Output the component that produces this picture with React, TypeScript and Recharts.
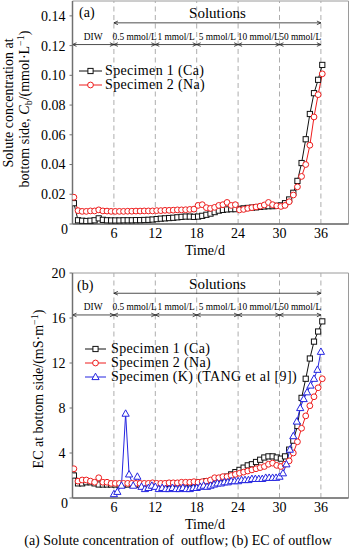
import { Legend, Line, LineChart, ReferenceArea, ReferenceLine, XAxis, YAxis } from "recharts";

const FONT = '"Liberation Serif", "Times New Roman", serif';
const INK = "#222";
const AXIS = "#707070";
const GRID = "#adadad";
const BLACK = "#111";
const RED = "#ee1c1c";
const BLUE = "#2424e0";

// time of each sample (d), shared by specimens 1 and 2
const days = [
  0.2, 0.8, 1.4, 2.0, 2.6, 3.2, 3.8, 4.4, 5.0, 5.6,
  6.2, 6.8, 7.4, 8.0, 8.6, 9.2, 9.8, 10.4, 11.0, 11.6,
  12.2, 12.8, 13.4, 14.0, 14.6, 15.2, 15.8, 16.4, 17.0, 17.6,
  18.2, 18.8, 19.4, 20.0, 20.6, 21.2, 21.8, 22.4, 23.0, 23.6,
  24.2, 24.8, 25.4, 26.0, 26.6, 27.2, 27.8, 28.4, 29.0, 29.6,
  30.2, 30.8, 31.4, 32.0, 32.6, 33.2, 33.8, 34.4, 35.0, 35.6,
  36.2,
];

// (a) solute concentration, mmol/L
const caConc = [
  0.014, 0.0025, 0.0022, 0.002, 0.0022, 0.0025, 0.0038, 0.0028, 0.0025, 0.0024,
  0.0024, 0.0024, 0.0025, 0.0025, 0.0025, 0.0026, 0.0026, 0.0027, 0.0028, 0.003,
  0.0033, 0.0036, 0.0038, 0.004, 0.0042, 0.0045, 0.0048, 0.005, 0.005, 0.0048,
  0.005, 0.0055, 0.0062, 0.007, 0.008, 0.009, 0.0095, 0.0098, 0.01, 0.01,
  0.0102, 0.0105, 0.0108, 0.011, 0.0112, 0.0115, 0.0118, 0.012, 0.012, 0.0122,
  0.0125, 0.014, 0.0165, 0.021, 0.029, 0.041, 0.057, 0.074, 0.088, 0.097,
  0.107,
];
const naConc = [
  0.018, 0.009, 0.0085, 0.0085, 0.0088, 0.0088, 0.0095, 0.0088, 0.0087, 0.0085,
  0.0085, 0.0085, 0.0085, 0.0086, 0.0086, 0.0087, 0.0087, 0.0088, 0.0088, 0.0088,
  0.009, 0.009, 0.0092, 0.0092, 0.0093, 0.0095, 0.0095, 0.0096, 0.0098, 0.01,
  0.0125, 0.013, 0.011, 0.0105, 0.0112, 0.0125, 0.013, 0.0145, 0.0125, 0.013,
  0.0095, 0.0098, 0.0105, 0.011, 0.0115, 0.012, 0.0128, 0.0145, 0.013, 0.0122,
  0.0118, 0.0125, 0.015, 0.0195, 0.025, 0.032, 0.04, 0.053, 0.072, 0.087,
  0.101,
];

// (b) EC, mS/m
const caEc = [
  2.0, 1.3, 1.3, 1.4, 1.4, 1.3, 1.2, 1.2, 1.2, 1.2,
  1.2, 1.2, 1.2, 1.2, 1.2, 1.2, 1.2, 1.2, 1.2, 1.2,
  1.2, 1.2, 1.2, 1.25, 1.25, 1.3, 1.3, 1.3, 1.3, 1.35,
  1.4, 1.4, 1.5, 1.5, 1.6, 1.7, 1.8, 1.9, 2.1, 2.3,
  2.5, 2.7, 2.9, 3.0, 3.2, 3.4, 3.6, 3.7, 3.7, 3.6,
  3.5, 3.7, 4.3, 5.1, 6.4, 8.9, 10.6, 12.4, 13.9, 14.8,
  15.7,
];
const naEc = [
  2.6, 1.5, 1.6, 1.6, 1.5, 1.4, 1.8, 1.4, 1.4, 1.3,
  1.3, 1.3, 1.3, 1.3, 1.3, 1.3, 1.3, 1.3, 1.3, 1.35,
  1.3, 1.3, 1.3, 1.35, 1.35, 1.35, 1.4, 1.4, 1.4, 1.45,
  1.4, 1.45, 1.5, 1.6, 1.8, 1.8, 1.9, 1.9, 2.0, 2.1,
  2.2, 2.3, 2.4, 2.5, 2.6, 2.7, 2.8, 3.0, 3.1, 2.9,
  2.8, 3.0, 3.3, 4.0, 5.0, 6.2, 7.3, 8.2, 9.0, 9.8,
  10.6,
];

// specimen K (TANG et al), own sampling times
const kDays = [
  6.0, 6.5, 7.1, 7.7, 8.2, 8.8, 9.4,
  10.0, 10.5, 11.0, 11.5, 12.0, 12.5, 13.0, 13.5, 14.0, 14.5,
  15.0, 15.5, 16.0, 16.5, 17.0, 17.5, 18.0, 18.5, 19.0, 19.5,
  20.0, 20.5, 21.0, 21.5, 22.0, 22.5, 23.0, 23.5, 24.0, 24.5,
  25.0, 25.5, 26.0, 26.5, 27.0, 27.5, 28.0, 28.5, 29.0, 29.5,
  30.0, 30.5, 31.0, 31.5, 32.0, 32.5, 33.0, 33.5, 34.0, 34.5,
  35.0, 35.5, 36.0,
];
const kEc = [
  0.35, 0.55, 1.1, 7.5, 2.1, 1.1, 1.9,
  1.0, 0.8, 0.9, 1.1, 1.0, 0.8, 0.9, 0.8, 0.8, 0.9,
  0.8, 0.8, 0.9, 0.8, 0.8, 0.9, 0.9, 1.0, 1.1, 1.0,
  1.1, 1.2, 1.3, 1.3, 1.4, 1.4, 1.5, 1.5, 1.5, 1.6,
  1.6, 1.6, 1.7, 1.7, 1.7, 1.7, 1.8, 1.8, 1.8, 1.8,
  1.9, 2.2, 3.0, 4.3, 5.5, 6.8, 8.0, 8.8, 9.4, 10.0,
  10.6, 11.4, 13.0,
];

const dayTicks = [6, 12, 18, 24, 30, 36];
const concTicks = [0, 0.02, 0.04, 0.06, 0.08, 0.1, 0.12, 0.14];
const ecTicks = [0, 2, 4, 6, 8, 10, 12, 14, 16, 18, 20];
const stageBounds = [0, 6, 12, 18, 24, 30, 36];
const stageLabels = ["DIW", "0.5 mmol/L", "1 mmol/L", "5 mmol/L", "10 mmol/L", "50 mmol/L"];

const concRows = days.map((t, i) => ({ t, ca: caConc[i], na: naConc[i] }));
const ecRows = days.map((t, i) => ({ t, ca: caEc[i], na: naEc[i] }));
const kRows = kDays.map((t, i) => ({ t, k: kEc[i] }));

const concSeries = [
  { name: "Specimen 1 (Ca)", color: BLACK, shape: "square" },
  { name: "Specimen 2 (Na)", color: RED, shape: "circle" },
];
const ecSeries = [
  { name: "Specimen 1 (Ca)", color: BLACK, shape: "square" },
  { name: "Specimen 2 (Na)", color: RED, shape: "circle" },
  { name: "Specimen (K) (TANG et al [9])", color: BLUE, shape: "triangle" },
];

function marker(shape: string, cx: number, cy: number, color: string, key?: string) {
  if (shape === "square")
    return <rect key={key} x={cx - 2.6} y={cy - 2.6} width={5.2} height={5.2} fill="#fff" stroke={color} strokeWidth={1} />;
  if (shape === "circle")
    return <circle key={key} cx={cx} cy={cy} r={2.9} fill="#fff" stroke={color} strokeWidth={1} />;
  return (
    <polygon
      key={key}
      points={`${cx},${cy - 3.8} ${cx - 3.6},${cy + 2.6} ${cx + 3.6},${cy + 2.6}`}
      fill="#fff"
      stroke={color}
      strokeWidth={1}
    />
  );
}

const dotOf = (shape: string, color: string) => (p: any) => {
  if (p.cx == null || p.cy == null) return <g key={p.key ?? p.index} />;
  return marker(shape, p.cx, p.cy, color, `${shape}-${p.index}`);
};

function YTick(props: any) {
  const { x, y, payload, digits } = props;
  const v = payload.value;
  const txt = v === 0 ? "0" : v.toFixed(digits);
  return (
    <text
      x={x + (v === 0 ? 2.5 : 0)}
      y={y + (v === 0 ? 5.5 : 0)}
      dy="0.35em"
      textAnchor="end"
      fontSize={14}
      fill="#000"
      fontFamily={FONT}
    >
      {txt}
    </text>
  );
}

function DoubleArrow(props: any) {
  const { x1, y1, x2, text, textDy, fontSize } = props;
  const h = 4;
  const w = 1.8;
  return (
    <g>
      <line x1={x1} y1={y1} x2={x2} y2={y1} stroke={INK} strokeWidth={0.8} />
      <polyline points={`${x1 + h},${y1 - w} ${x1},${y1} ${x1 + h},${y1 + w}`} fill="none" stroke={INK} strokeWidth={0.8} />
      <polyline points={`${x2 - h},${y1 - w} ${x2},${y1} ${x2 - h},${y1 + w}`} fill="none" stroke={INK} strokeWidth={0.8} />
      <text x={(x1 + x2) / 2} y={y1 + textDy} textAnchor="middle" fontSize={fontSize} fill="#000" fontFamily={FONT}>
        {text}
      </text>
    </g>
  );
}

function LegendBox({ items, lineW, gap }: { items: typeof ecSeries; lineW: number; gap: number }) {
  return (
    <div style={{ fontFamily: FONT, fontSize: 14, lineHeight: "14px", letterSpacing: "0.35px", color: "#000" }}>
      {items.map((it) => (
        <div key={it.name} style={{ display: "flex", alignItems: "center", height: 14 }}>
          <svg width={lineW} height={10} style={{ display: "block" }}>
            <line x1={0} y1={5} x2={lineW} y2={5} stroke={it.color} strokeWidth={1} />
            {marker(it.shape, lineW / 2, 5, it.color)}
          </svg>
          <span style={{ marginLeft: gap, whiteSpace: "nowrap" }}>{it.name}</span>
        </div>
      ))}
    </div>
  );
}

function stageArrows(yArrow: number) {
  return stageLabels.map((label, i) => (
    <ReferenceLine
      key={label}
      segment={[
        { x: stageBounds[i], y: yArrow },
        { x: stageBounds[i + 1], y: yArrow },
      ]}
      shape={(p: any) => <DoubleArrow x1={p.x1} y1={p.y1} x2={p.x2} text={label} textDy={-4.8} fontSize={9.4} />}
    />
  ));
}

function axes(domain: [number, number], ticks: number[], digits: number) {
  return [
    <XAxis
      key="x"
      type="number"
      dataKey="t"
      domain={[0, 40]}
      ticks={dayTicks}
      height={20}
      tickSize={3}
      tickMargin={1}
      tickLine={false}
      axisLine={{ stroke: AXIS, strokeWidth: 1.5 }}
      tick={{ fontSize: 14, fill: "#000", fontFamily: FONT }}
      allowDataOverflow
    />,
    <YAxis
      key="y"
      type="number"
      domain={domain}
      ticks={ticks}
      width={72}
      tickSize={3}
      tickMargin={4}
      axisLine={{ stroke: AXIS, strokeWidth: 1.5 }}
      tickLine={{ stroke: AXIS }}
      tick={<YTick digits={digits} />}
      allowDataOverflow
    />,
  ];
}

function ConcChart() {
  return (
    <LineChart width={350} height={262} data={concRows} margin={{ top: 1, right: 1.5, bottom: 18, left: 0.5 }}>
      {axes([0, 0.15], concTicks, 2)}
      <ReferenceArea x1={0} x2={40} y1={0} y2={0.15} fill="none" stroke="#9a9a9a" strokeWidth={1} />
      {dayTicks.map((d) => (
        <ReferenceLine key={d} x={d} stroke={GRID} strokeDasharray="5 3.5" />
      ))}
      <ReferenceLine
        segment={[
          { x: 6, y: 0.1353 },
          { x: 36, y: 0.1353 },
        ]}
        shape={(p: any) => <DoubleArrow x1={p.x1} y1={p.y1} x2={p.x2} text="Solutions" textDy={-5} fontSize={15} />}
      />
      {stageArrows(0.1207)}
      <Line dataKey="ca" name="Specimen 1 (Ca)" stroke={BLACK} strokeWidth={1} dot={dotOf("square", BLACK)} activeDot={false} isAnimationActive={false} />
      <Line dataKey="na" name="Specimen 2 (Na)" stroke={RED} strokeWidth={1} dot={dotOf("circle", RED)} activeDot={false} isAnimationActive={false} />
      <Legend
        layout="vertical"
        align="center"
        verticalAlign="middle"
        wrapperStyle={{ left: 79, top: 64, width: "auto", height: "auto" }}
        content={() => <LegendBox items={concSeries} lineW={23} gap={3} />}
      />
    </LineChart>
  );
}

function EcChart() {
  return (
    <LineChart width={350} height={289} data={ecRows} margin={{ top: 11, right: 1.5, bottom: 33, left: 0.5 }}>
      {axes([0, 20], ecTicks, 0)}
      <ReferenceArea x1={0} x2={40} y1={0} y2={20} fill="none" stroke="#9a9a9a" strokeWidth={1} />
      {dayTicks.map((d) => (
        <ReferenceLine key={d} x={d} stroke={GRID} strokeDasharray="5 3.5" />
      ))}
      <ReferenceLine
        segment={[
          { x: 6, y: 18.2 },
          { x: 36, y: 18.2 },
        ]}
        shape={(p: any) => <DoubleArrow x1={p.x1} y1={p.y1} x2={p.x2} text="Solutions" textDy={-4} fontSize={15} />}
      />
      {stageArrows(16.27)}
      <Line dataKey="ca" name="Specimen 1 (Ca)" stroke={BLACK} strokeWidth={1} dot={dotOf("square", BLACK)} activeDot={false} isAnimationActive={false} />
      <Line dataKey="na" name="Specimen 2 (Na)" stroke={RED} strokeWidth={1} dot={dotOf("circle", RED)} activeDot={false} isAnimationActive={false} />
      <Line data={kRows} dataKey="k" name="Specimen (K) (TANG et al [9])" stroke={BLUE} strokeWidth={1} dot={dotOf("triangle", BLUE)} activeDot={false} isAnimationActive={false} />
      <Legend
        layout="vertical"
        align="center"
        verticalAlign="middle"
        wrapperStyle={{ left: 85, top: 80, width: "auto", height: "auto" }}
        content={() => <LegendBox items={ecSeries} lineW={21} gap={5} />}
      />
    </LineChart>
  );
}

export default function App() {
  return (
    <div style={{ position: "absolute", left: 0, top: 0, width: 350, height: 551, background: "#fff", fontFamily: FONT }}>
      <div style={{ position: "absolute", left: 0, top: 0 }}>
        <ConcChart />
      </div>
      <div style={{ position: "absolute", left: 0, top: 262 }}>
        <EcChart />
      </div>
      <svg width={350} height={551} style={{ position: "absolute", left: 0, top: 0, pointerEvents: "none" }} fontFamily={FONT}>
        <text x={79} y={16.6} fontSize={14}>(a)</text>
        <text x={77} y={289.6} fontSize={14}>(b)</text>
        <text x={13} y={103} fontSize={14} textAnchor="middle" transform="rotate(-90 13 103)">
          Solute concentration at
        </text>
        <text x={29} y={109} fontSize={14} textAnchor="middle" transform="rotate(-90 29 109)">
          <tspan>bottom side, </tspan>
          <tspan fontStyle="italic">C</tspan>
          <tspan fontSize={10} dy={3}>b</tspan>
          <tspan dy={-3}>/(mmol·L</tspan>
          <tspan fontSize={10} dy={-5}>−1</tspan>
          <tspan dy={5}>)</tspan>
        </text>
        <text x={43} y={389} fontSize={14} textAnchor="middle" transform="rotate(-90 43 389)">
          <tspan>EC at bottom side/(mS·m</tspan>
          <tspan fontSize={10} dy={-5}>−1</tspan>
          <tspan dy={5}>)</tspan>
        </text>
        <text x={205} y={254.6} fontSize={14} textAnchor="middle">Time/d</text>
        <text x={205} y={528.6} fontSize={14} textAnchor="middle">Time/d</text>
        <text x={178} y={544.6} fontSize={14} textAnchor="middle" style={{ whiteSpace: "pre" }}>
          (a) Solute concentration of  outflow; (b) EC of outflow
        </text>
      </svg>
    </div>
  );
}
